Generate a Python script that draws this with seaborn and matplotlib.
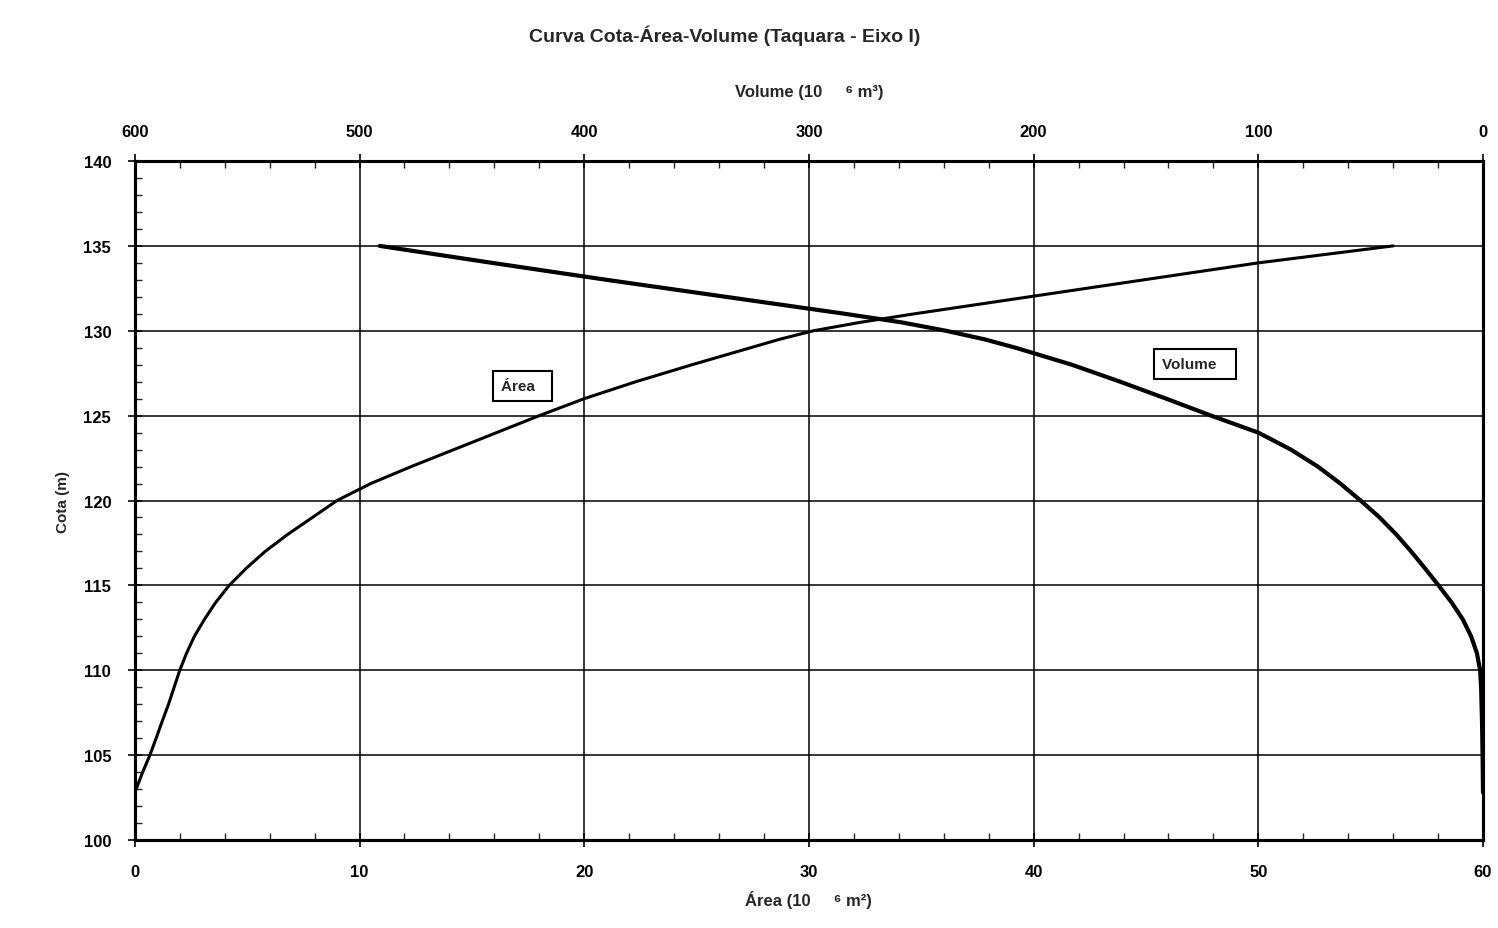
import matplotlib
matplotlib.use("Agg")
import matplotlib.pyplot as plt
from matplotlib.ticker import MultipleLocator
import seaborn as sns

sns.set_style("ticks")
plt.rcParams["font.family"] = ["Liberation Sans", "DejaVu Sans"]
plt.rcParams["font.weight"] = "bold"

# Área (10^6 m²) x cota (m)
COTA_AREA = [102.8, 104, 105, 106, 107, 108, 109, 110, 111, 112, 113, 114, 115, 116, 117,
             118, 119, 120, 121, 122, 123, 124, 125, 126, 127, 128, 129, 129.5, 130, 130.5,
             131, 132, 133, 134, 135]
AREA = [0.0, 0.35, 0.67, 0.95, 1.22, 1.5, 1.75, 2.0, 2.3, 2.65, 3.1, 3.6, 4.2, 4.95, 5.8,
        6.8, 7.9, 9.0, 10.5, 12.3, 14.2, 16.1, 18.0, 20.0, 22.3, 24.8, 27.4, 28.7, 30.2, 32.3,
        34.7, 39.8, 44.9, 50.0, 56.0]

# Volume (10^6 m³) x cota (m)
COTA_VOL = [102.8, 105, 107, 109, 110, 111, 112, 113, 114, 115, 116, 117, 118, 119, 120,
            121, 122, 123, 124, 125, 126, 127, 128, 129, 129.5, 130, 130.5, 131, 132, 133,
            134, 135]
VOLUME = [0, 0.2, 0.45, 0.85, 1.3, 2.7, 5.3, 9.0, 14.0, 19.8, 25.8, 32.0, 38.6, 46.0, 54.5,
          63.5, 73.5, 85.5, 100, 121, 141, 161.5, 183, 208, 222, 239, 259, 284, 337, 390,
          441, 491]

AREA_TICKS = [0, 10, 20, 30, 40, 50, 60]
VOL_TICKS = [600, 500, 400, 300, 200, 100, 0]
COTA_TICKS = [100, 105, 110, 115, 120, 125, 130, 135, 140]

fig = plt.figure(figsize=(14.98, 9.29), dpi=100)
ax = fig.add_axes([0.090, 0.0947, 0.900, 0.7309])
ax2 = ax.twiny()

sns.lineplot(x=AREA, y=COTA_AREA, sort=False, estimator=None, color="black", lw=2.2, ax=ax)
sns.lineplot(x=VOLUME, y=COTA_VOL, sort=False, estimator=None, color="black", lw=3.0, ax=ax2)

ax.set_xlim(0, 60)
ax.set_ylim(100, 140)
ax2.set_xlim(600, 0)

ax.set_xticks(AREA_TICKS)
ax.set_yticks(COTA_TICKS)
ax2.set_xticks(VOL_TICKS)
ax.xaxis.set_minor_locator(MultipleLocator(2))
ax.yaxis.set_minor_locator(MultipleLocator(1))
ax2.xaxis.set_minor_locator(MultipleLocator(20))

ax.grid(True, which="major", color="black", lw=1.1)
ax.set_axisbelow(True)

for a in (ax, ax2):
    for s in a.spines.values():
        s.set_linewidth(2.2)
        s.set_color("black")

ax.tick_params(axis="both", which="major", direction="inout", length=10, width=1.2,
               labelsize=12, colors="black")
ax.tick_params(axis="x", which="major", pad=12)
ax.tick_params(axis="y", which="major", pad=12)
ax.tick_params(axis="both", which="minor", direction="in", length=5, width=1.0)
ax2.tick_params(axis="x", which="major", direction="inout", length=10, width=1.2,
                labelsize=12, pad=11, colors="black")
ax2.tick_params(axis="x", which="minor", direction="in", length=5, width=1.0)

for lab in ax.get_xticklabels() + ax.get_yticklabels() + ax2.get_xticklabels():
    lab.set_fontweight("bold")

ax.set_xlabel("Área (10     ⁶ m²)", fontsize=12, fontweight="bold", labelpad=8)
ax.set_ylabel("Cota (m)", fontsize=11, fontweight="bold", labelpad=10)
ax2.set_xlabel("Volume (10     ⁶ m³)", fontsize=12, fontweight="bold", labelpad=20)

ax.text(16.3, 126.75, "Área  ", fontsize=11, fontweight="bold", va="center", ha="left",
        bbox=dict(boxstyle="square,pad=0.55", fc="white", ec="black", lw=1.5))
ax.text(45.7, 128.05, "Volume   ", fontsize=11, fontweight="bold", va="center", ha="left",
        bbox=dict(boxstyle="square,pad=0.5", fc="white", ec="black", lw=1.5))

fig.text(0.484, 0.961, "Curva Cota-Área-Volume (Taquara - Eixo I)", fontsize=14,
         fontweight="bold", ha="center", va="center")

fig.savefig("out.png", dpi=100, facecolor="white")
